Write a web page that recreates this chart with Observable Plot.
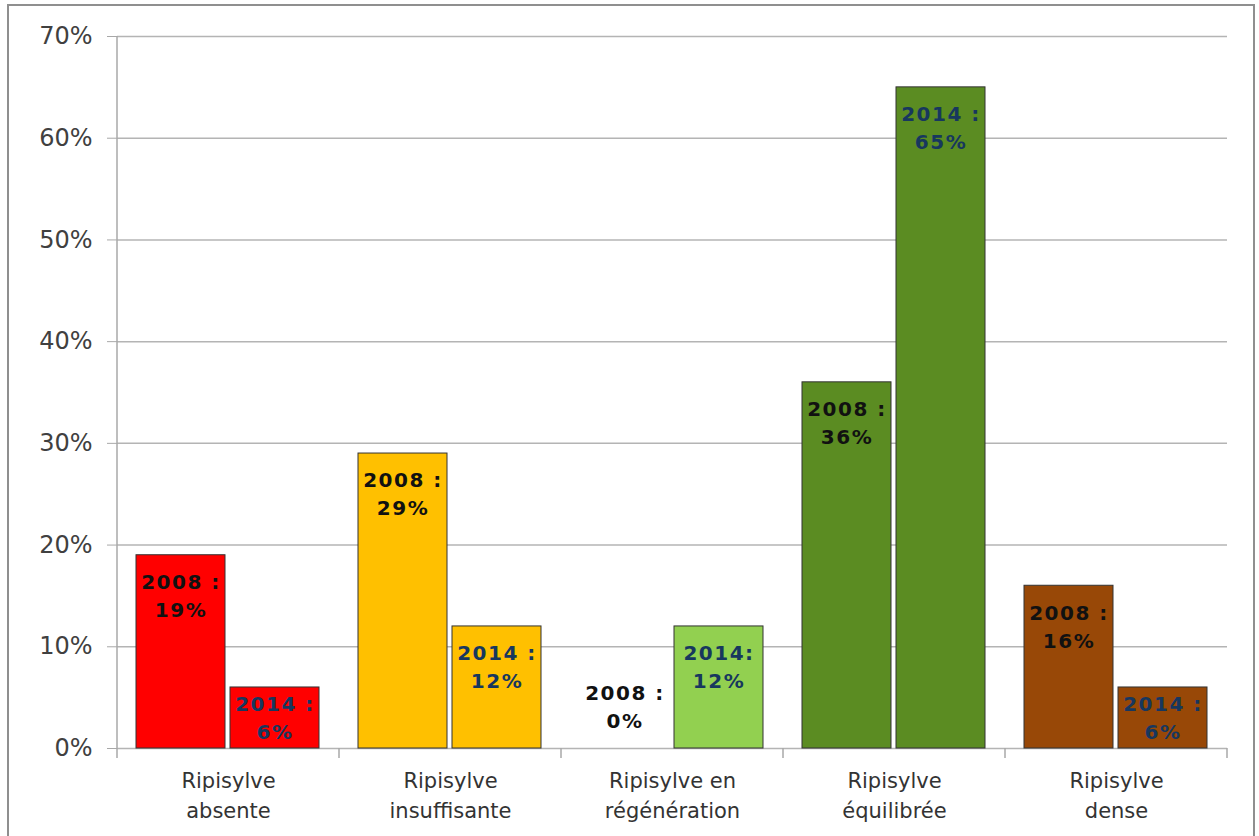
<!DOCTYPE html>
<html>
<head>
<meta charset="utf-8">
<script src="https://cdn.jsdelivr.net/npm/d3@7"></script>
<script src="https://cdn.jsdelivr.net/npm/@observablehq/plot@0.6"></script>
<style>
  html, body { margin: 0; padding: 0; background: #fff; }
  #wrap { position: relative; width: 1259px; height: 836px; overflow: hidden; }
  #frame { position: absolute; left: 7px; top: 4px; width: 1248px; height: 900px; border: 2px solid #8f8f8f; box-sizing: border-box; }
  #chart { position: absolute; left: 0; top: 0; }
  g.barlabel text { letter-spacing: 1.5px; }
</style>
</head>
<body>
<div id="wrap">
  <div id="frame"></div>
  <div id="chart"></div>
</div>
<script>
const categories = ["Ripisylve absente", "Ripisylve insuffisante", "Ripisylve en régénération", "Ripisylve équilibrée", "Ripisylve dense"];
const categoryTickLabels = ["Ripisylve\nabsente", "Ripisylve\ninsuffisante", "Ripisylve en\nrégénération", "Ripisylve\néquilibrée", "Ripisylve\ndense"];
const years = ["2008", "2014"];
const values2008 = [19, 29, 0, 36, 16];
const values2014 = [6, 12, 12, 65, 6];
const labels2008 = ["2008 :", "2008 :", "2008 :", "2008 :", "2008 :"];
const labels2014 = ["2014 :", "2014 :", "2014:", "2014 :", "2014 :"];
const yTicks = [0, 10, 20, 30, 40, 50, 60, 70];
const barColors = ["#FF0000", "#FFC000", "#92D050", "#5B8C22", "#984807"];
const labelColors = {"2008": "#111111", "2014": "#17375E"};

const data = categories.flatMap((c, i) => [
  {cat: c, year: "2008", value: values2008[i], label: labels2008[i] + "\n" + values2008[i] + "%", color: barColors[i]},
  {cat: c, year: "2014", value: values2014[i], label: labels2014[i] + "\n" + values2014[i] + "%", color: barColors[i]}
]);

const tall = data.filter(d => d.value >= 10);
const short = data.filter(d => d.value > 0 && d.value < 10);
const zero = data.filter(d => d.value === 0);

const textOpts = {
  fx: "cat", x: "year", y: "value", text: "label",
  lineAnchor: "top", fontSize: 20, fontWeight: "bold", lineHeight: 1.4,
  fill: d => labelColors[d.year], className: "barlabel"
};

const plot = Plot.plot({
  width: 1259,
  height: 836,
  marginLeft: 115,
  marginRight: 31,
  marginTop: 36,
  marginBottom: 88,
  style: {fontFamily: "'DejaVu Sans', Verdana, sans-serif", background: "transparent", overflow: "visible"},
  fx: {domain: categories, padding: 0, label: null},
  x: {domain: years, paddingInner: 0.0526, paddingOuter: 0.198, axis: null},
  y: {domain: [0, 70], label: null},
  color: {type: "identity"},
  marks: [
    Plot.gridY(yTicks, {stroke: "#b4b4b4", strokeOpacity: 1, strokeWidth: 1.5}),
    Plot.axisY(yTicks, {tickSize: 10, tickPadding: 15, fontSize: 24, fill: "#404040", stroke: "#a8a8a8", tickFormat: d => d + "%", label: null}),
    Plot.axisFx({anchor: "bottom", tickSize: 0, tickPadding: 19, fontSize: 21, lineHeight: 1.4, fill: "#333333", tickFormat: c => categoryTickLabels[categories.indexOf(c)], label: null}),
    Plot.barY(data.filter(d => d.value > 0), {fx: "cat", x: "year", y: "value", fill: "color", stroke: "#333333", strokeWidth: 1}),
    Plot.text(tall, {...textOpts, dy: 14}),
    Plot.text(short, {...textOpts, dy: 4}),
    Plot.text(zero, {...textOpts, dy: -68})
  ]
});

// y-axis line and category separators, positioned from Plot's own scales
const fxS = plot.scale("fx");
const yS = plot.scale("y");
const y0 = yS.apply(0), yTop = yS.apply(70);
const bounds = categories.map(c => fxS.apply(c)).concat([fxS.apply(categories[categories.length - 1]) + fxS.bandwidth]);
const svg = d3.select(plot);
const g = svg.insert("g", "g[aria-label='bar']").attr("stroke", "#a8a8a8").attr("stroke-width", 1.5);
g.append("line").attr("x1", bounds[0]).attr("x2", bounds[0]).attr("y1", yTop).attr("y2", y0 + 10);
bounds.slice(1).forEach(b => g.append("line").attr("x1", b).attr("x2", b).attr("y1", y0).attr("y2", y0 + 10));

document.getElementById("chart").appendChild(plot);
</script>
</body>
</html>
